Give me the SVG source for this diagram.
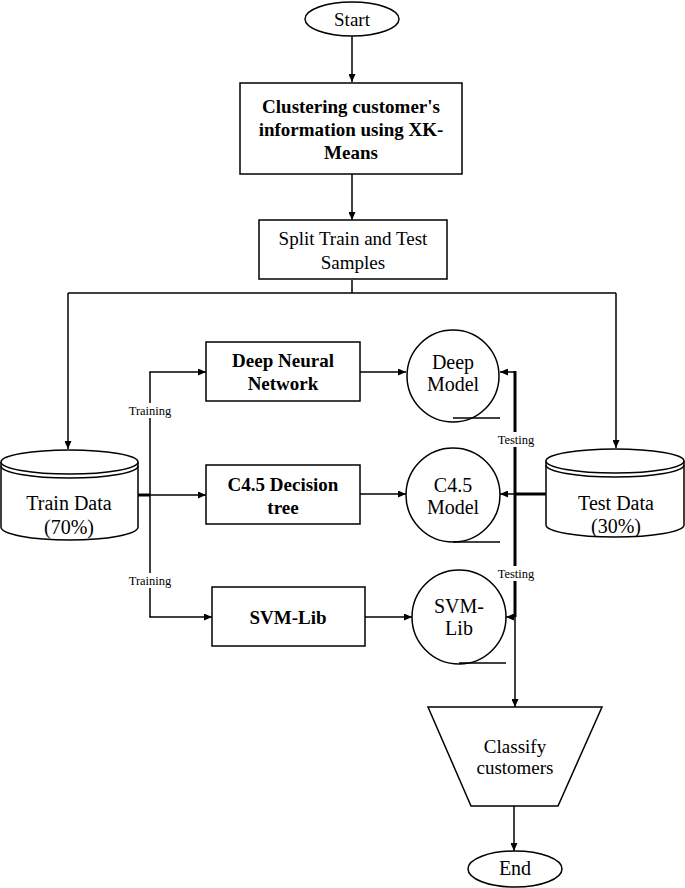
<svg xmlns="http://www.w3.org/2000/svg" width="685" height="888" viewBox="0 0 685 888">
<style>
.s{fill:#fff;stroke:#000;stroke-width:1.5}
.ln{fill:none;stroke:#000;stroke-width:1.5}
.th{fill:none;stroke:#000;stroke-width:3}
.t{font-family:"Liberation Serif","Times New Roman",serif;font-size:19px;text-anchor:middle;fill:#000}
.c{font-size:20px}
.b{font-weight:bold}
.sm{font-family:"Liberation Serif","Times New Roman",serif;font-size:12.5px;text-anchor:middle;fill:#000}
</style>
<defs>
<marker id="a" markerUnits="userSpaceOnUse" markerWidth="8" markerHeight="7" refX="8" refY="3.5" orient="auto">
<path d="M0,0 L8,3.5 L0,7 z" fill="#000"/>
</marker>
</defs>
<g id="connectors">
<line class="ln" x1="352" y1="36" x2="352" y2="82" marker-end="url(#a)"/>
<line class="ln" x1="352" y1="174" x2="352" y2="220" marker-end="url(#a)"/>
<polyline class="ln" points="352,280 352,293"/>
<polyline class="ln" points="68,293 616,293"/>
<line class="ln" x1="68" y1="293" x2="68" y2="449" marker-end="url(#a)"/>
<line class="ln" x1="616" y1="293" x2="616" y2="448" marker-end="url(#a)"/>
<line class="th" x1="138" y1="495" x2="150" y2="495"/>
<line class="ln" x1="150" y1="495" x2="206" y2="495" marker-end="url(#a)"/>
<line class="ln" x1="150" y1="372" x2="150" y2="617"/>
<line class="ln" x1="149.3" y1="372" x2="206" y2="372" marker-end="url(#a)"/>
<line class="ln" x1="149.3" y1="617" x2="212" y2="617" marker-end="url(#a)"/>
<line class="ln" x1="360" y1="372" x2="406" y2="372" marker-end="url(#a)"/>
<line class="ln" x1="360" y1="494" x2="406" y2="494" marker-end="url(#a)"/>
<line class="ln" x1="365" y1="617" x2="412" y2="617" marker-end="url(#a)"/>
<line class="th" x1="515" y1="371" x2="515" y2="617"/>
<line class="ln" x1="515" y1="617" x2="515" y2="707" marker-end="url(#a)"/>
<line class="ln" x1="515" y1="372" x2="500" y2="372" marker-end="url(#a)"/>
<line class="th" x1="546" y1="494" x2="515" y2="494"/>
<line class="ln" x1="515" y1="494" x2="500" y2="494" marker-end="url(#a)"/>
<line class="ln" x1="515" y1="617" x2="506" y2="617" marker-end="url(#a)"/>
<line class="ln" x1="514" y1="806" x2="514" y2="851" marker-end="url(#a)"/>
<rect x="127" y="403" width="46" height="15" fill="#fff"/>
<text class="sm" x="150" y="415">Training</text>
<rect x="127" y="573" width="46" height="15" fill="#fff"/>
<text class="sm" x="150" y="585">Training</text>
<rect x="494" y="432" width="44" height="15" fill="#fff"/>
<text class="sm" x="516" y="444">Testing</text>
<rect x="494" y="566" width="44" height="15" fill="#fff"/>
<text class="sm" x="516" y="578">Testing</text>
</g>
<g id="start">
<ellipse class="s" cx="352" cy="19" rx="47" ry="17"/>
<text class="t" x="352" y="25.5">Start</text>
</g>
<g id="clustering">
<rect class="s" x="240" y="83" width="222" height="91"/>
<text class="t b" x="351" y="113">Clustering customer's</text>
<text class="t b" x="351" y="136">information using XK-</text>
<text class="t b" x="351" y="159">Means</text>
</g>
<g id="split">
<rect class="s" x="259" y="220" width="188" height="59"/>
<text class="t" x="353" y="244.5">Split Train and Test</text>
<text class="t" x="353" y="268.5">Samples</text>
</g>
<g id="train-data">
<path class="s" d="M1,462 L1,527 A68.5,13 0 0 0 138,527 L138,462"/>
<ellipse class="s" cx="69.5" cy="462" rx="68.5" ry="12"/>
<path class="ln" d="M1,466 A68.5,12 0 0 0 138,466"/>
<text class="t c" x="69" y="509.5">Train Data</text>
<text class="t c" x="69" y="534">(70%)</text>
</g>
<g id="test-data">
<path class="s" d="M546,461 L546,525 A69,12 0 0 0 684,525 L684,461"/>
<ellipse class="s" cx="615" cy="461" rx="69" ry="12"/>
<path class="ln" d="M546,465 A69,12 0 0 0 684,465"/>
<text class="t c" x="616" y="509.5">Test Data</text>
<text class="t c" x="616" y="532.5">(30%)</text>
</g>
<g id="dnn">
<rect class="s" x="206" y="342" width="154" height="59"/>
<text class="t b" x="283" y="366.5">Deep Neural</text>
<text class="t b" x="283" y="389.5">Network</text>
</g>
<g id="c45">
<rect class="s" x="206" y="465" width="154" height="59"/>
<text class="t b" x="283" y="490.5">C4.5 Decision</text>
<text class="t b" x="283" y="513.5">tree</text>
</g>
<g id="svm">
<rect class="s" x="212" y="587" width="153" height="59"/>
<text class="t b" x="288" y="623.5">SVM-Lib</text>
</g>
<g id="deep-model">
<circle class="s" cx="453" cy="376" r="46"/>
<line class="ln" x1="453" y1="418" x2="500" y2="418"/>
<text class="t c" x="453" y="369">Deep</text>
<text class="t c" x="453" y="391">Model</text>
</g>
<g id="c45-model">
<circle class="s" cx="453" cy="495" r="47"/>
<line class="ln" x1="453" y1="542" x2="500" y2="542"/>
<text class="t c" x="453" y="492">C4.5</text>
<text class="t c" x="453" y="514">Model</text>
</g>
<g id="svm-model">
<circle class="s" cx="459" cy="617" r="47"/>
<line class="ln" x1="459" y1="663" x2="506" y2="663"/>
<text class="t c" x="459" y="613">SVM-</text>
<text class="t c" x="459" y="635">Lib</text>
</g>
<g id="classify">
<polygon class="s" points="428,707 602,707 558,806 471,806"/>
<text class="t" x="515" y="753">Classify</text>
<text class="t" x="515" y="774">customers</text>
</g>
<g id="end">
<ellipse class="s" cx="515" cy="869" rx="47" ry="18"/>
<text class="t c" x="515" y="875">End</text>
</g>
</svg>
